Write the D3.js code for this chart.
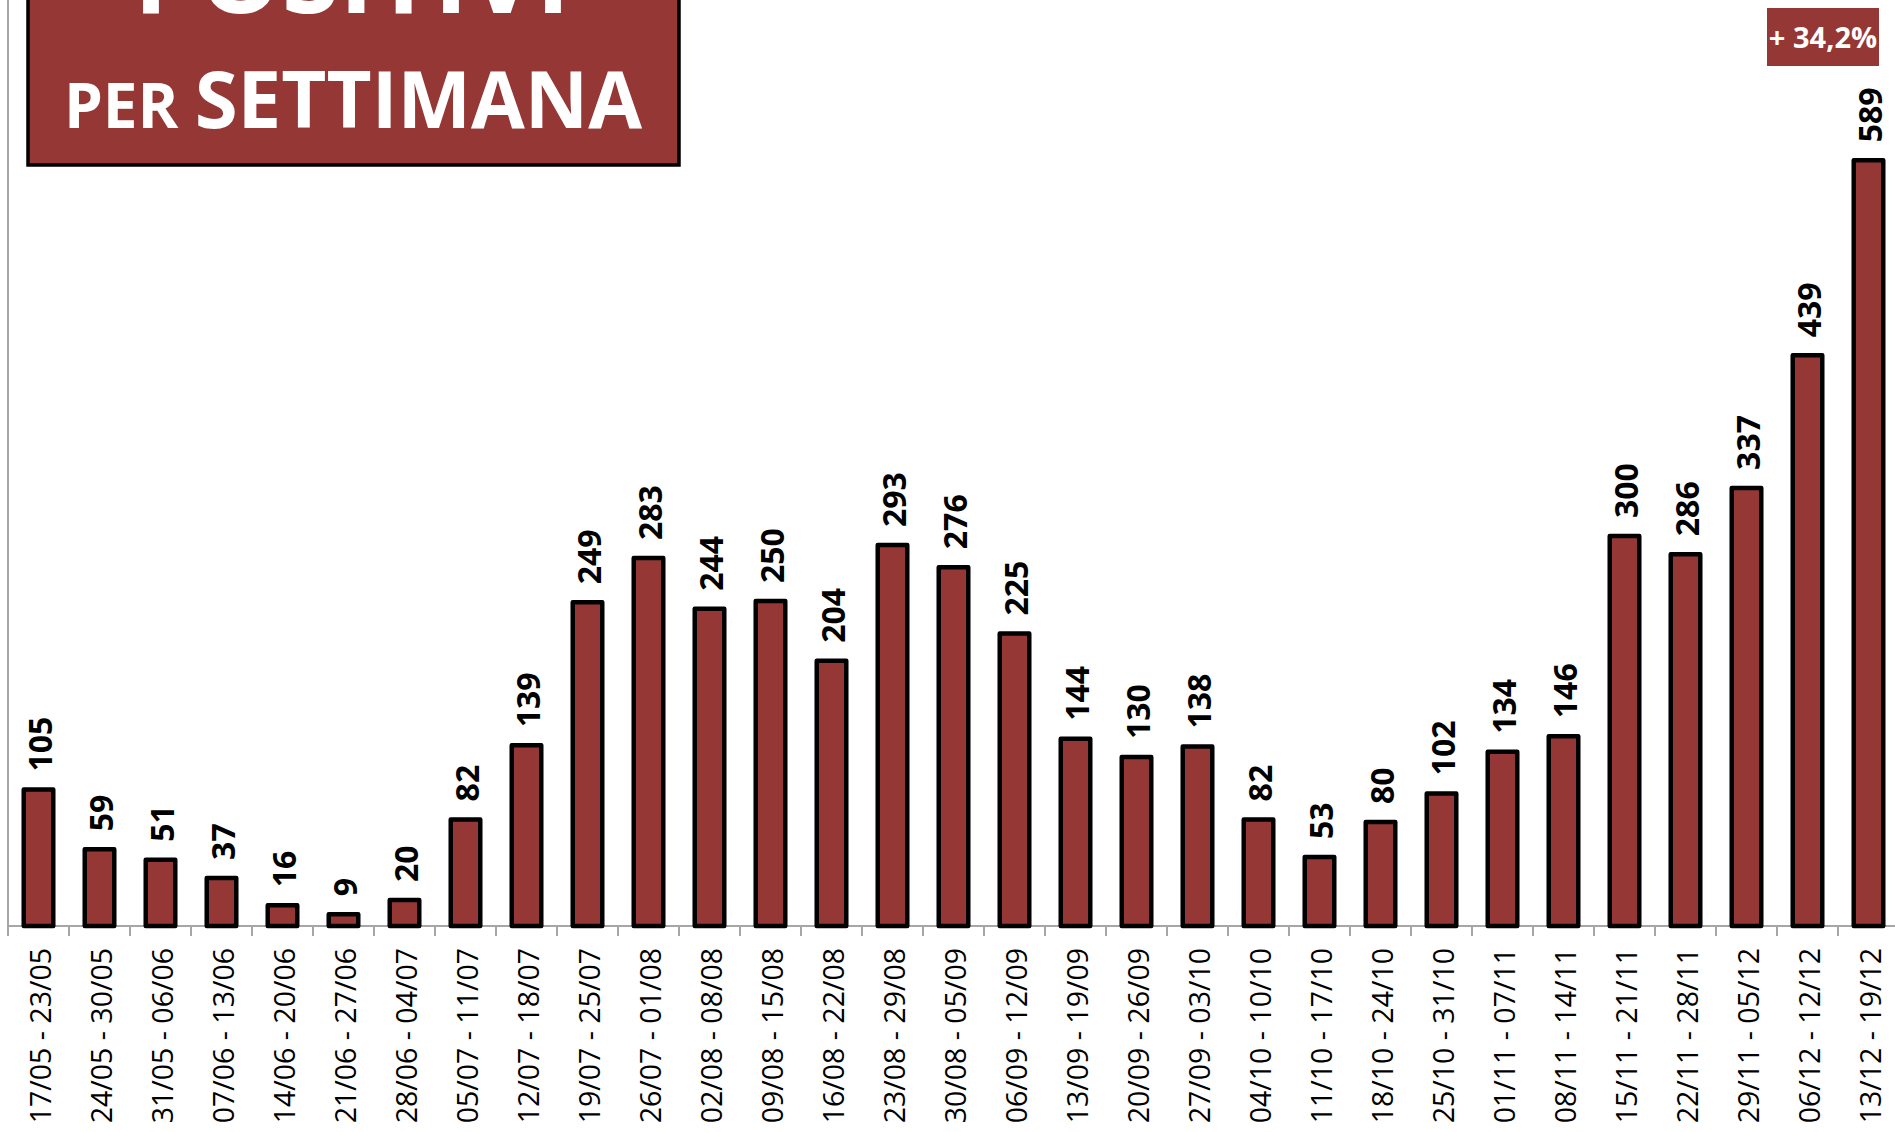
<!DOCTYPE html>
<html>
<head>
<meta charset="utf-8">
<script src="https://cdn.jsdelivr.net/npm/d3@7"></script>
<style>
  html, body { margin: 0; padding: 0; background: #ffffff; overflow: hidden; }
  svg { display: block; }
</style>
</head>
<body>
<svg id="chart" width="1895" height="1132"></svg>
<script>
const categories = [
  "17/05 - 23/05","24/05 - 30/05","31/05 - 06/06","07/06 - 13/06","14/06 - 20/06",
  "21/06 - 27/06","28/06 - 04/07","05/07 - 11/07","12/07 - 18/07","19/07 - 25/07",
  "26/07 - 01/08","02/08 - 08/08","09/08 - 15/08","16/08 - 22/08","23/08 - 29/08",
  "30/08 - 05/09","06/09 - 12/09","13/09 - 19/09","20/09 - 26/09","27/09 - 03/10",
  "04/10 - 10/10","11/10 - 17/10","18/10 - 24/10","25/10 - 31/10","01/11 - 07/11",
  "08/11 - 14/11","15/11 - 21/11","22/11 - 28/11","29/11 - 05/12","06/12 - 12/12",
  "13/12 - 19/12"
];
const positivi = [105,59,51,37,16,9,20,82,139,249,283,244,250,204,293,276,225,144,130,138,82,53,80,102,134,146,300,286,337,439,589];
const titleTop = "POSITIVI";
const titleSmall = "PER";
const titleBig = "SETTIMANA";
const badgeText = "+ 34,2%";

const svg = d3.select("#chart");
const RED = "#953735";
const AXIS = "#a6a6a6";

const x0 = 8, step = 61, baseY = 926;
const x = d3.scaleBand()
  .domain(categories)
  .range([x0, x0 + step * categories.length])
  .paddingInner(0.516)
  .paddingOuter(0.258);
const y = d3.scaleLinear().domain([0, 712.3]).range([baseY, 0]);

// y axis line
svg.append("line")
  .attr("x1", x0).attr("x2", x0).attr("y1", 0).attr("y2", baseY + 10)
  .attr("stroke", AXIS).attr("stroke-width", 2);

// x axis baseline and ticks at band boundaries
svg.append("line")
  .attr("x1", x0).attr("x2", 1895).attr("y1", baseY).attr("y2", baseY)
  .attr("stroke", AXIS).attr("stroke-width", 2);
svg.append("g").selectAll("line")
  .data(categories.slice(1))
  .join("line")
  .attr("x1", d => x(d) - x.step() * x.paddingInner() / 2)
  .attr("x2", d => x(d) - x.step() * x.paddingInner() / 2)
  .attr("y1", baseY).attr("y2", baseY + 10)
  .attr("stroke", AXIS).attr("stroke-width", 2);

// bars
svg.append("g").selectAll("rect")
  .data(positivi)
  .join("rect")
  .attr("x", (d, i) => x(categories[i]))
  .attr("width", x.bandwidth())
  .attr("y", d => y(d))
  .attr("height", d => baseY - y(d))
  .attr("fill", RED)
  .attr("stroke", "#000")
  .attr("stroke-width", 4.5)
  .attr("stroke-linejoin", "round");

// value labels
svg.append("g").selectAll("text")
  .data(positivi)
  .join("text")
  .attr("transform", (d, i) => `translate(${x(categories[i]) + x.bandwidth() / 2 + 1.5},${y(d) - 18}) rotate(-90)`)
  .attr("dy", "0.36em")
  .attr("text-anchor", "start")
  .attr("font-family", "'Open Sans', 'Noto Sans', sans-serif")
  .attr("font-weight", "bold")
  .attr("font-size", 32)
  .attr("fill", "#000")
  .text(d => d);

// category labels
svg.append("g").selectAll("text")
  .data(categories)
  .join("text")
  .attr("transform", d => `translate(${x(d) + x.bandwidth() / 2 + 2},948) rotate(-90)`)
  .attr("dy", "0.36em")
  .attr("text-anchor", "end")
  .attr("font-family", "'Open Sans', 'Noto Sans', sans-serif")
  .attr("font-size", 28.5)
  .attr("fill", "#000")
  .text(d => d);

// title box
svg.append("rect")
  .attr("x", 28).attr("y", -40).attr("width", 651).attr("height", 205)
  .attr("fill", RED).attr("stroke", "#000").attr("stroke-width", 3.5);
svg.append("text")
  .attr("x", 352).attr("y", 13)
  .attr("text-anchor", "middle")
  .attr("font-family", "'Open Sans', sans-serif")
  .attr("font-weight", "bold")
  .attr("font-size", 104)
  .attr("fill", "#fff")
  .text(titleTop);
const t2 = svg.append("text")
  .attr("x", 353).attr("y", 128)
  .attr("text-anchor", "middle")
  .attr("font-family", "'Open Sans', sans-serif")
  .attr("font-weight", "bold")
  .attr("fill", "#fff");
t2.append("tspan").attr("font-size", 62).text(titleSmall + " ");
t2.append("tspan").attr("font-size", 78).text(titleBig);

// badge
svg.append("rect")
  .attr("x", 1767).attr("y", 8).attr("width", 112).attr("height", 58)
  .attr("fill", RED);
svg.append("text")
  .attr("x", 1823).attr("y", 48)
  .attr("text-anchor", "middle")
  .attr("font-family", "'Open Sans', sans-serif")
  .attr("font-weight", "bold")
  .attr("font-size", 29)
  .attr("fill", "#fff")
  .text(badgeText);
</script>
</body>
</html>
